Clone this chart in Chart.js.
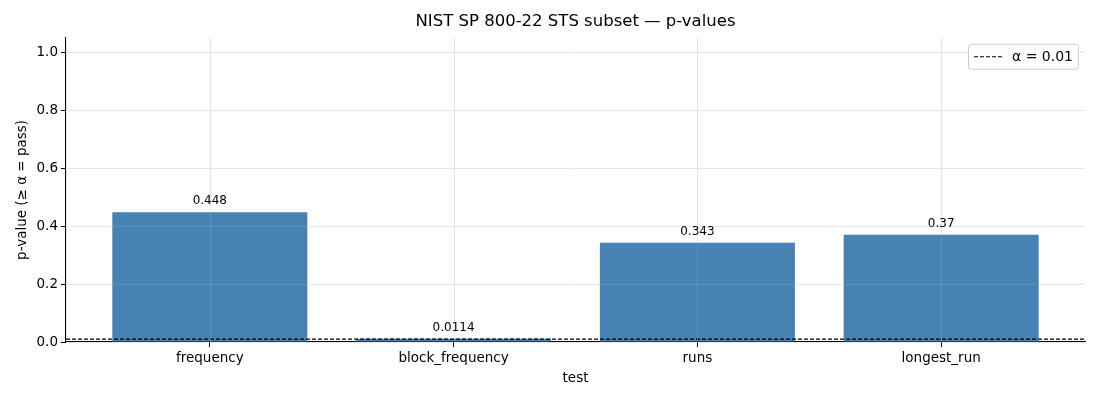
<!DOCTYPE html>
<html>
<head>
<meta charset="utf-8">
<script src="https://cdn.jsdelivr.net/npm/chart.js@4/dist/chart.umd.min.js"></script>
<style>
  html, body { margin: 0; padding: 0; background: #fff; }
  #wrap { width: 1100px; height: 400px; }
</style>
</head>
<body>
<div id="wrap"><canvas id="chart" width="1100" height="400"></canvas></div>
<script>
// data
const tests = ['frequency', 'block_frequency', 'runs', 'longest_run'];
const pValues = [0.448, 0.0114, 0.343, 0.37];
const alpha = 0.01;
const yTicks = [0, 0.2, 0.4, 0.6, 0.8, 1.0];

const FONT = 'DejaVu Sans';
const xMin = -0.59, xMax = tests.length - 1 + 0.59;

// grid drawn over the bars, like matplotlib's translucent grid
const gridOver = {
    id: 'gridOver',
    afterDatasetsDraw(chart) {
        const ctx = chart.ctx;
        const a = chart.chartArea;
        const xs = chart.scales.x, ys = chart.scales.y;
        ctx.save();
        ctx.strokeStyle = 'rgba(176,176,176,0.3)';
        ctx.lineWidth = 1;
        xs.ticks.forEach(t => {
            const px = Math.round(xs.getPixelForValue(t.value)) + 0.5;
            ctx.beginPath();
            ctx.moveTo(px, a.top);
            ctx.lineTo(px, a.bottom);
            ctx.stroke();
        });
        ys.ticks.forEach(t => {
            const py = Math.round(ys.getPixelForValue(t.value)) + 0.5;
            ctx.beginPath();
            ctx.moveTo(a.left, py);
            ctx.lineTo(a.right, py);
            ctx.stroke();
        });
        ctx.restore();
    }
};

// value labels above bars
const barLabels = {
    id: 'barLabels',
    afterDatasetsDraw(chart) {
        const ctx = chart.ctx;
        const meta = chart.getDatasetMeta(0);
        ctx.save();
        ctx.font = '12px "' + FONT + '"';
        ctx.fillStyle = '#000';
        ctx.textAlign = 'center';
        ctx.textBaseline = 'bottom';
        meta.data.forEach((bar, i) => {
            const txt = String(Number(pValues[i].toPrecision(3)));
            ctx.fillText(txt, bar.x, bar.y - 5);
        });
        ctx.restore();
    }
};

// matplotlib-like legend box in the upper right
const legendBox = {
    id: 'legendBox',
    afterDraw(chart) {
        const ctx = chart.ctx;
        const area = chart.chartArea;
        const w = 110, h = 25;
        const x = area.right - 7 - w, y = area.top + 6;
        ctx.save();
        ctx.fillStyle = 'rgba(255,255,255,0.8)';
        ctx.strokeStyle = '#cccccc';
        ctx.lineWidth = 1;
        ctx.beginPath();
        ctx.roundRect(x + 0.5, y + 0.5, w, h, 3);
        ctx.fill();
        ctx.stroke();
        ctx.strokeStyle = '#000';
        ctx.lineWidth = 1.1;
        ctx.setLineDash([4, 2]);
        ctx.beginPath();
        ctx.moveTo(x + 6, y + h / 2 + 0.5);
        ctx.lineTo(x + 34, y + h / 2 + 0.5);
        ctx.stroke();
        ctx.setLineDash([]);
        ctx.font = '14px "' + FONT + '"';
        ctx.fillStyle = '#000';
        ctx.textBaseline = 'middle';
        ctx.fillText('α = ' + alpha, x + 44, y + h / 2 + 1);
        ctx.restore();
    }
};

new Chart(document.getElementById('chart').getContext('2d'), {
    data: {
        datasets: [{
            type: 'bar',
            label: 'p-value',
            data: tests.map((t, i) => ({ x: i, y: pValues[i] })),
            backgroundColor: '#4682b4',
            borderWidth: 0,
            barPercentage: 0.8,
            categoryPercentage: 1.0,
            order: 1
        }, {
            type: 'line',
            label: 'α = ' + alpha,
            data: [{ x: xMin, y: alpha }, { x: xMax, y: alpha }],
            borderColor: '#000',
            borderWidth: 1.1,
            borderDash: [4, 2],
            pointRadius: 0,
            order: 0
        }]
    },
    options: {
        responsive: false,
        animation: false,
        layout: { padding: { left: 0, right: 15, top: 0, bottom: 0 } },
        plugins: {
            legend: { display: false },
            tooltip: { enabled: false },
            title: {
                display: true,
                fullSize: false,
                text: 'NIST SP 800-22 STS subset — p-values',
                color: '#000',
                font: { family: FONT, size: 16.5, weight: 'normal' },
                padding: { top: 12, bottom: 6 }
            }
        },
        scales: {
            x: {
                type: 'linear',
                min: xMin,
                max: xMax,
                offset: false,
                afterBuildTicks: s => { s.ticks = tests.map((t, i) => ({ value: i })); },
                afterFit: s => { s.height = 58; },
                ticks: {
                    callback: v => tests[v],
                    color: '#000',
                    font: { family: FONT, size: 13.5 },
                    padding: 3,
                    maxRotation: 0,
                    autoSkip: false
                },
                grid: { offset: false, drawOnChartArea: false, color: '#000', tickColor: '#000', lineWidth: 1, tickLength: 5 },
                border: { display: true, color: '#000', width: 1.1 },
                title: {
                    display: true,
                    text: 'test',
                    color: '#000',
                    font: { family: FONT, size: 13.5 },
                    padding: { top: 2, bottom: 13 }
                }
            },
            y: {
                min: 0,
                max: 1.05,
                afterBuildTicks: s => { s.ticks = yTicks.map(v => ({ value: v })); },
                afterFit: s => { s.width = 66; },
                ticks: {
                    callback: v => v.toFixed(1),
                    color: '#000',
                    font: { family: FONT, size: 13.5 },
                    padding: 3
                },
                grid: { drawOnChartArea: false, color: '#000', tickColor: '#000', lineWidth: 1, tickLength: 5 },
                border: { display: true, color: '#000', width: 1.1 },
                title: {
                    display: true,
                    text: 'p-value (≥ α = pass)',
                    color: '#000',
                    font: { family: FONT, size: 13.5 },
                    padding: { top: 14, bottom: 2 }
                }
            }
        }
    },
    plugins: [gridOver, barLabels, legendBox]
});
</script>
</body>
</html>
